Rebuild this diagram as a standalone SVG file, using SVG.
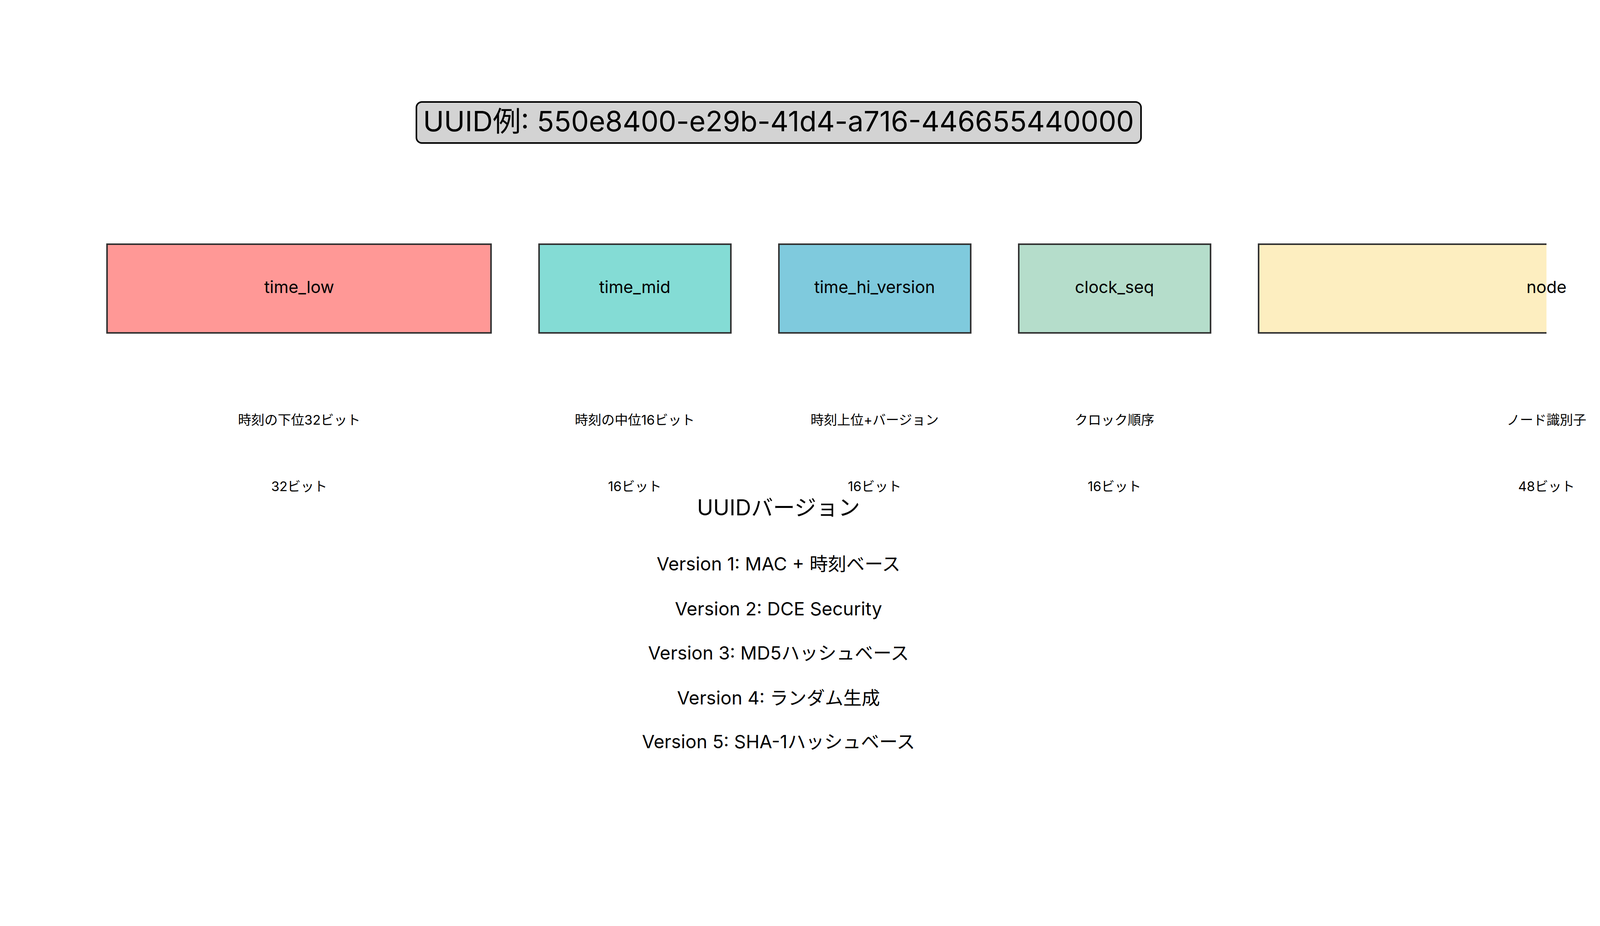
<svg xmlns="http://www.w3.org/2000/svg" width="4170" height="2370" viewBox="0 0 4170 2370">
<style>
text{font-family:Inter,"Noto Sans CJK JP",sans-serif;fill:#000;text-anchor:middle;dominant-baseline:central}
.box{stroke:#333;stroke-width:4}
.lbl{font-size:43px}
.d{font-size:34px}
.v{font-size:47px}
</style>
<rect width="4170" height="2370" fill="#fff"/>
<g id="title"><rect x="1066" y="261" width="1855" height="105" rx="14" fill="#d3d3d3" stroke="#000" stroke-width="4"/><text x="1993" y="309" font-size="72">UUID例: 550e8400-e29b-41d4-a716-446655440000</text></g>
<g id="time_low"><rect class="box" x="274" y="625" width="983" height="227" fill="#ff9896"/><text class="lbl" x="766" y="734">time_low</text><text class="d" x="766" y="1074">時刻の下位32ビット</text><text class="d" x="766" y="1244">32ビット</text></g>
<g id="time_mid"><rect class="box" x="1380" y="625" width="491" height="227" fill="#84dcd5"/><text class="lbl" x="1625" y="734">time_mid</text><text class="d" x="1625" y="1074">時刻の中位16ビット</text><text class="d" x="1625" y="1244">16ビット</text></g>
<g id="time_hi_version"><rect class="box" x="1994" y="625" width="491" height="227" fill="#7fcadd"/><text class="lbl" x="2239" y="734">time_hi_version</text><text class="d" x="2239" y="1074">時刻上位+バージョン</text><text class="d" x="2239" y="1244">16ビット</text></g>
<g id="clock_seq"><rect class="box" x="2608" y="625" width="491" height="227" fill="#b5ddcb"/><text class="lbl" x="2853" y="734">clock_seq</text><text class="d" x="2853" y="1074">クロック順序</text><text class="d" x="2853" y="1244">16ビット</text></g>
<g id="node"><rect class="box" x="3222" y="625" width="1474" height="227" fill="#fdeec0"/><rect x="3959" y="615" width="220" height="250" fill="#fff"/><text class="lbl" x="3959" y="734">node</text><text class="d" x="3959" y="1074">ノード識別子</text><text class="d" x="3959" y="1244">48ビット</text></g>
<g id="versions"><text x="1993" y="1299" font-size="56">UUIDバージョン</text><text class="v" x="1993" y="1442">Version 1: MAC + 時刻ベース</text><text class="v" x="1993" y="1557">Version 2: DCE Security</text><text class="v" x="1993" y="1670">Version 3: MD5ハッシュベース</text><text class="v" x="1993" y="1785">Version 4: ランダム生成</text><text class="v" x="1993" y="1897">Version 5: SHA-1ハッシュベース</text></g>
<g id="connectors"/>
</svg>
